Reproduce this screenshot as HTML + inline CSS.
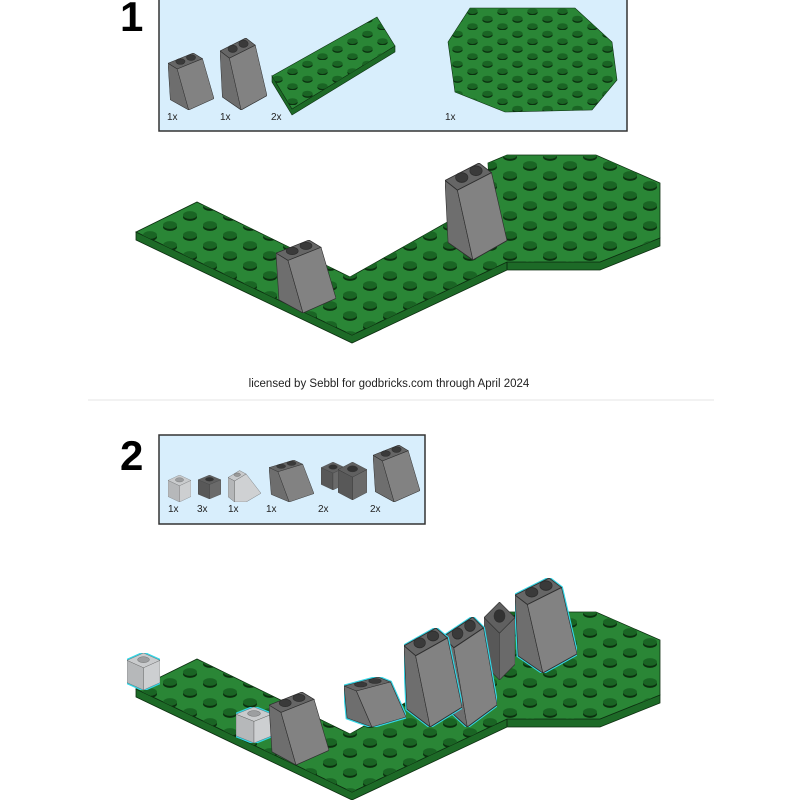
<!DOCTYPE html>
<html><head><meta charset="utf-8"><style>
html,body{margin:0;padding:0;background:#fff;width:800px;height:800px;overflow:hidden}
svg{display:block}
.t{font-family:"Liberation Sans",sans-serif}
</style></head><body>
<svg width="800" height="800" viewBox="0 0 800 800" xmlns="http://www.w3.org/2000/svg">
<defs>
<pattern id="studs" width="40" height="20" patternUnits="userSpaceOnUse">
<ellipse cx="10" cy="7" rx="7" ry="3.9" fill="#0b300f"/>
<ellipse cx="10" cy="5" rx="7" ry="3.9" fill="#1a6524"/>
<ellipse cx="30" cy="17" rx="7" ry="3.9" fill="#0b300f"/>
<ellipse cx="30" cy="15" rx="7" ry="3.9" fill="#1a6524"/>
<ellipse cx="30" cy="-3" rx="7" ry="3.9" fill="#0b300f"/>
<ellipse cx="30" cy="-5" rx="7" ry="3.9" fill="#1a6524"/>
</pattern>
<pattern id="studsS" width="30" height="15" patternUnits="userSpaceOnUse">
<ellipse cx="7.5" cy="5" rx="5.2" ry="2.9" fill="#0b300f"/>
<ellipse cx="7.5" cy="3.6" rx="5.2" ry="2.9" fill="#1a6524"/>
<ellipse cx="22.5" cy="12.5" rx="5.2" ry="2.9" fill="#0b300f"/>
<ellipse cx="22.5" cy="11.1" rx="5.2" ry="2.9" fill="#1a6524"/>
</pattern>
<symbol id="slope" viewBox="0 0 100 100" preserveAspectRatio="none">
<g stroke="#2e2e2e" stroke-width="1" vector-effect="non-scaling-stroke">
<polygon points="0,18 55,0 75,10 20,28" fill="#666"/>
<polygon points="0,18 20,28 45,100 5,82" fill="#6e6e6e"/>
<polygon points="20,28 75,10 100,80 45,100" fill="#828282"/>
<ellipse cx="27" cy="15" rx="10" ry="5" fill="#3a3a3a"/>
<ellipse cx="50" cy="8" rx="10" ry="5" fill="#3a3a3a"/>
</g>
</symbol>
<symbol id="slopeC" viewBox="0 0 100 100" preserveAspectRatio="none">
<polygon points="0,18 55,0 75,10 100,80 45,100 5,82" fill="none" stroke="#35d6e6" stroke-width="3" vector-effect="non-scaling-stroke"/>
<g stroke="#2e2e2e" stroke-width="1" vector-effect="non-scaling-stroke">
<polygon points="0,18 55,0 75,10 20,28" fill="#666"/>
<polygon points="0,18 20,28 45,100 5,82" fill="#6e6e6e"/>
<polygon points="20,28 75,10 100,80 45,100" fill="#828282"/>
<ellipse cx="27" cy="15" rx="10" ry="5" fill="#3a3a3a"/>
<ellipse cx="50" cy="8" rx="10" ry="5" fill="#3a3a3a"/>
</g>
</symbol>
<symbol id="slopeL" viewBox="0 0 100 100" preserveAspectRatio="none">
<g stroke="#555" stroke-width="1" vector-effect="non-scaling-stroke">
<polygon points="0,30 35,10 55,20 20,40" fill="#c8cacc"/>
<polygon points="0,30 20,40 20,100 0,85" fill="#b4b6b8"/>
<polygon points="20,40 55,20 100,75 55,100 20,100" fill="#cfd1d3"/>
<ellipse cx="28" cy="22" rx="10" ry="5" fill="#999"/>
</g>
</symbol>
<symbol id="brickL" viewBox="0 0 100 100" preserveAspectRatio="none">
<g stroke="#555" stroke-width="1" vector-effect="non-scaling-stroke">
<polygon points="0,20 50,0 100,20 50,40" fill="#c9cbcd"/>
<polygon points="0,20 50,40 50,100 0,80" fill="#b6b8ba"/>
<polygon points="50,40 100,20 100,80 50,100" fill="#cdcfd1"/>
<ellipse cx="50" cy="18" rx="18" ry="8" fill="#9c9ea0"/>
</g>
</symbol>
<symbol id="brickLC" viewBox="0 0 100 100" preserveAspectRatio="none">
<polygon points="0,20 50,0 100,20 100,80 50,100 0,80" fill="none" stroke="#35d6e6" stroke-width="3" vector-effect="non-scaling-stroke"/>
<g stroke="#555" stroke-width="1" vector-effect="non-scaling-stroke">
<polygon points="0,20 50,0 100,20 50,40" fill="#c9cbcd"/>
<polygon points="0,20 50,40 50,100 0,80" fill="#b6b8ba"/>
<polygon points="50,40 100,20 100,80 50,100" fill="#cdcfd1"/>
<ellipse cx="50" cy="18" rx="18" ry="8" fill="#9c9ea0"/>
</g>
</symbol>
<symbol id="brickD" viewBox="0 0 100 100" preserveAspectRatio="none">
<g stroke="#2e2e2e" stroke-width="1" vector-effect="non-scaling-stroke">
<polygon points="0,20 50,0 100,20 50,40" fill="#606060"/>
<polygon points="0,20 50,40 50,100 0,80" fill="#585858"/>
<polygon points="50,40 100,20 100,80 50,100" fill="#6a6a6a"/>
<ellipse cx="50" cy="18" rx="18" ry="8" fill="#333"/>
</g>
</symbol>
<symbol id="base" viewBox="0 0 800 400" preserveAspectRatio="none">
<polygon points="136,232 136,240 352,343 507,270 600,270 660,246 660,238 600,262 507,262 352,335" fill="#1d6a27" stroke="#0c2e10" stroke-width="0.8"/>
<polygon points="136,232 197,202 350,277 490,198 488,163 507,155 596,155 660,183 660,238 600,262 507,262 352,335" fill="#2a8636" stroke="#0c2e10" stroke-width="0.8"/>
<polygon points="136,232 197,202 350,277 490,198 488,163 507,155 596,155 660,183 660,238 600,262 507,262 352,335" fill="url(#studs)"/>
<line x1="507" y1="262" x2="507" y2="270" stroke="#0c2e10"/>
</symbol>
</defs>

<!-- STEP 1 -->
<text x="120" y="31" class="t" font-size="42" font-weight="bold" fill="#000">1</text>
<rect x="159" y="-2" width="468" height="133" fill="#d8eefc" stroke="#333" stroke-width="1.5"/>
<use href="#slope" x="168" y="53" width="46" height="57"/>
<use href="#slope" x="220" y="38" width="47" height="72"/>
<polygon points="272,76 272,82 292,115 395,52 395,46 292,109" fill="#1d6a27" stroke="#0c2e10" stroke-width="0.6"/>
<polygon points="272,76 377,17 395,46 292,109" fill="#2a8636" stroke="#0c2e10" stroke-width="0.6"/>
<polygon points="272,76 377,17 395,46 292,109" fill="url(#studsS)"/>
<polygon points="448,42 470,8 575,8 612,42 617,80 592,110 505,112 455,92" fill="#2a8636" stroke="#0c2e10" stroke-width="0.6"/>
<polygon points="448,42 470,8 575,8 612,42 617,80 592,110 505,112 455,92" fill="url(#studsS)"/>
<g class="t" font-size="10" fill="#222">
<text x="167" y="120">1x</text><text x="220" y="120">1x</text><text x="271" y="120">2x</text><text x="445" y="120">1x</text>
</g>

<use href="#base" x="0" y="0" width="800" height="400"/>
<use href="#slope" x="276" y="240" width="60" height="73"/>
<use href="#slope" x="445" y="163" width="62" height="97"/>

<text x="389" y="387" class="t" font-size="11.5" fill="#222" text-anchor="middle">licensed by Sebbl for godbricks.com through April 2024</text>
<line x1="88" y1="400" x2="714" y2="400" stroke="#eee" stroke-width="1.5"/>

<!-- STEP 2 -->
<text x="120" y="470" class="t" font-size="42" font-weight="bold" fill="#000">2</text>
<rect x="159" y="435" width="266" height="89" fill="#d8eefc" stroke="#333" stroke-width="1.5"/>
<use href="#brickL" x="168" y="475" width="23" height="27"/>
<use href="#brickD" x="198" y="475" width="23" height="24"/>
<use href="#slopeL" x="228" y="467" width="33" height="35"/>
<use href="#slope" x="269" y="460" width="45" height="42"/>
<use href="#brickD" x="321" y="462" width="24" height="28"/>
<use href="#brickD" x="338" y="462" width="29" height="38"/>
<use href="#slope" x="373" y="445" width="47" height="57"/>
<g class="t" font-size="10" fill="#222">
<text x="168" y="512">1x</text><text x="197" y="512">3x</text><text x="228" y="512">1x</text><text x="266" y="512">1x</text><text x="318" y="512">2x</text><text x="370" y="512">2x</text>
</g>

<use href="#base" x="0" y="457" width="800" height="400"/>
<use href="#brickLC" x="127" y="653" width="33" height="37"/>
<use href="#brickLC" x="236" y="707" width="36" height="36"/>
<use href="#slope" x="269" y="692" width="60" height="73"/>
<use href="#slopeC" x="344" y="677" width="62" height="50"/>
<use href="#brickD" x="484" y="602" width="31" height="78"/>
<use href="#slopeC" x="515" y="578" width="62" height="95"/>
<use href="#slopeC" x="443" y="617" width="54" height="110"/>
<use href="#slopeC" x="404" y="628" width="58" height="99"/>
</svg>
</body></html>
